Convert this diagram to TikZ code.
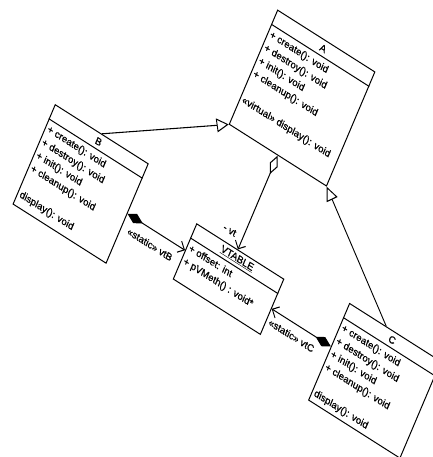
\documentclass[tikz,border=0pt]{standalone}
\usepackage{fontspec}
\setmainfont[FakeBold=0.8]{Liberation Sans}
\usetikzlibrary{arrows.meta,calc}
\tikzset{
  umlbox/.style={draw, line width=1pt, fill=white, inner sep=0pt, anchor=north west},
  umltext/.style={inner sep=0pt, align=left, font=\fontsize{10}{14.2}\selectfont},
  sepline/.style={line width=1pt},
  conn/.style={line width=1pt},
  gen/.style={-{Triangle[open,length=13pt,width=13pt,fill=white]}},
  lbl/.style={inner sep=0pt, font=\fontsize{10}{12}\selectfont}
}
\begin{document}
\begin{tikzpicture}[x=1pt,y=1pt]
\useasboundingbox (0,0) rectangle (432,-457);
\begin{scope}[x=1pt,y=-1pt,transform canvas={cm={0.845,-0.537,0.39,0.92,(55pt,-104pt)}}]
  % boxes
  \node[umlbox, minimum width=115pt, minimum height=124pt] (A) at (170,-202) {};
  \node[umlbox, minimum width=110pt, minimum height=108pt] (B) at (0,0) {};
  \node[umlbox, minimum width=103pt, minimum height=60pt] (VT) at (179,25) {};
  \node[umlbox, minimum width=108pt, minimum height=105pt] (C) at (353,10) {};
  % separators
  \draw[sepline] ($(A.north west)+(0,16)$) -- ($(A.north east)+(0,16)$);
  \draw[sepline] ($(B.north west)+(0,16)$) -- ($(B.north east)+(0,16)$);
  \draw[sepline] ($(VT.north west)+(0,16)$) -- ($(VT.north east)+(0,16)$);
  \draw[sepline] ($(C.north west)+(0,16)$) -- ($(C.north east)+(0,16)$);
  % names
  \node[umltext] (An) at ($(A.north)+(0,8.5)$) {A};
  \node[umltext] (Bn) at ($(B.north)+(0,8.5)$) {B};
  \node[umltext] (Cn) at ($(C.north)+(0,8.5)$) {C};
  \node[umltext] (VTn) at ($(VT.north)+(0,8.5)$) {\underline{VTABLE}};
  % operations
  \node[umltext, anchor=north west] (Aops) at ($(A.north west)+(3,20.5)$)
    {+ create(): void\\+ destroy(): void\\+ init(): void\\+ cleanup(): void\\[14.2pt]«virtual» display(): void};
  \node[umltext, anchor=north west] (Bops) at ($(B.north west)+(3,20.5)$)
    {+ create(): void\\+ destroy(): void\\+ init(): void\\+ cleanup(): void\\[14.2pt]display(): void};
  \node[umltext, anchor=north west] (Cops) at ($(C.north west)+(3,20.5)$)
    {+ create(): void\\+ destroy(): void\\+ init(): void\\+ cleanup(): void\\[14.2pt]display(): void};
  \node[umltext, anchor=north west] (VTatt) at ($(VT.north west)+(3,20.5)$)
    {+ offset: int\\+ pVMeth() : void*};
  % generalizations
  \draw[conn, gen] (B.north) -- (A.south west);
  \coordinate (Ctop) at ($(C.north west)!0.4!(C.north east)$);
  \draw[conn, gen] (Ctop) -- (A.south east);
  % aggregation A -> VTABLE
  \draw[conn, {Diamond[open,length=20pt,width=9pt,fill=white]}-{Straight Barb[length=6pt,width=12pt]}]
    (A.south) -- (A.south |- VT.north);
  \node[lbl, anchor=east] (lvt) at ($(A.south |- VT.north)+(-8,-12)$) {- vt};
  % compositions
  \draw[conn, {Diamond[length=18pt,width=10pt]}-{Straight Barb[length=6pt,width=12pt]}]
    (B.east) -- (B.east -| VT.west);
  \node[lbl] (lB) at ($(B.east)+(33,14)$) {«static» vtB};
  \coordinate (vc) at ($(VT.east)+(0,2)$);
  \draw[conn, {Straight Barb[length=6pt,width=12pt]}-{Diamond[length=18pt,width=10pt]}]
    (vc) -- (vc -| C.west);
  \node[lbl] (lC) at ($(VT.east)+(29,14)$) {«static» vtC};
\end{scope}
\end{tikzpicture}
\end{document}
